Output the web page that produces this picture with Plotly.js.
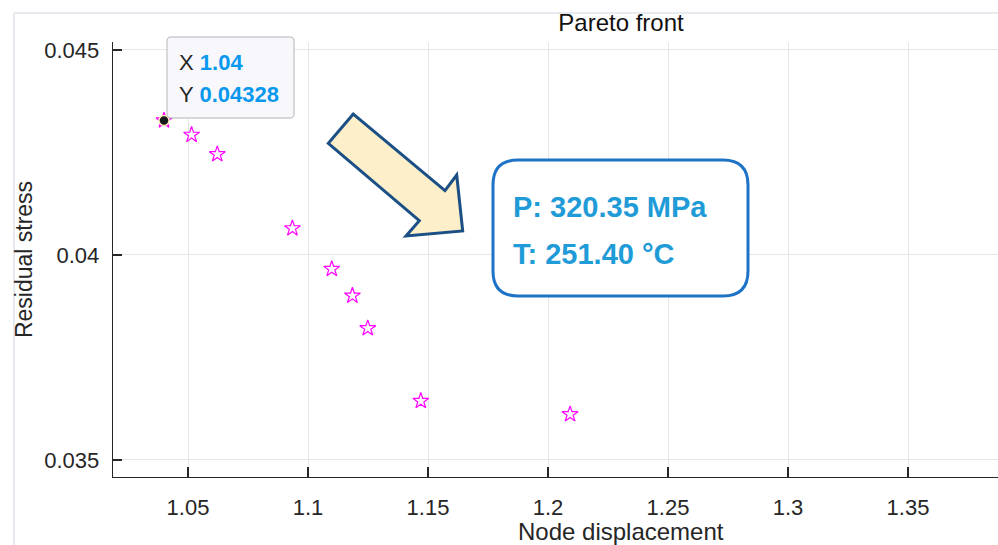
<!DOCTYPE html>
<html>
<head>
<meta charset="utf-8">
<script src="https://cdn.plot.ly/plotly-3.0.1.min.js"></script>
<style>html,body{margin:0;padding:0;background:#fff;}#chart{width:998px;height:545px;}</style>
</head>
<body>
<div id="chart"></div>
<script>
// ---- data ----
const nodeDisplacement = [1.04, 1.0515, 1.0622, 1.0935, 1.1099, 1.1185, 1.1249, 1.147, 1.2092];
const residualStress   = [0.04328, 0.04293, 0.042456, 0.04065, 0.039659, 0.039008, 0.038212, 0.03644, 0.036115];
const xTickVals  = [1.05, 1.1, 1.15, 1.2, 1.25, 1.3, 1.35];
const xTickText  = ["1.05", "1.1", "1.15", "1.2", "1.25", "1.3", "1.35"];
const yTickVals  = [0.035, 0.04, 0.045];
const yTickText  = ["0.035", "0.04", "0.045"];
const tipIndex = 0;
const boxLines = ["P: 320.35 MPa", "T: 251.40 °C"];
const chartTitle = "Pareto front";
const xTitle = "Node displacement";
const yTitle = "Residual stress";

// ---- layout geometry ----
const W = 998, H = 545;
const ml = 113, mr = 0, mt = 42, mb = 68;
const pw = W - ml - mr, ph = H - mt - mb;
const px = x => (x - ml) / pw;
const py = y => (mt + ph - y) / ph;

function polyPath(pts) {
  return 'M ' + pts.map(p => px(p[0]).toFixed(5) + ',' + py(p[1]).toFixed(5)).join(' L ') + ' Z';
}
function roundRect(x0, y0, x1, y1, r) {
  const P = (x, y) => px(x).toFixed(5) + ',' + py(y).toFixed(5);
  return 'M ' + P(x0 + r, y0) + ' L ' + P(x1 - r, y0) + ' Q ' + P(x1, y0) + ' ' + P(x1, y0 + r) +
    ' L ' + P(x1, y1 - r) + ' Q ' + P(x1, y1) + ' ' + P(x1 - r, y1) +
    ' L ' + P(x0 + r, y1) + ' Q ' + P(x0, y1) + ' ' + P(x0, y1 - r) +
    ' L ' + P(x0, y0 + r) + ' Q ' + P(x0, y0) + ' ' + P(x0 + r, y0) + ' Z';
}

const font = "Liberation Sans, Arial, sans-serif";

const traces = [
  {
    x: nodeDisplacement, y: residualStress,
    type: 'scatter', mode: 'markers',
    marker: { symbol: 'star-open', size: 12, color: '#ff00ff', line: { width: 1.2, color: '#ff00ff' } },
    hoverinfo: 'skip', showlegend: false, cliponaxis: false
  },
  {
    x: [nodeDisplacement[tipIndex]], y: [residualStress[tipIndex]],
    type: 'scatter', mode: 'markers',
    marker: { symbol: 'circle', size: 10, color: '#1a1a1a', line: { width: 1.5, color: '#fbe9b8' } },
    hoverinfo: 'skip', showlegend: false, cliponaxis: false
  }
];

const arrowPts = [[353.3,114],[328.3,143.3],[419.3,220.7],[406,236],[462.7,231],[456.7,175],[445,190.7]];

const layout = {
  width: W, height: H,
  margin: { l: ml, r: mr, t: mt, b: mb, pad: 0 },
  paper_bgcolor: '#ffffff', plot_bgcolor: '#ffffff',
  font: { family: font, color: '#262626', size: 22 },
  title: { text: chartTitle, font: { family: font, size: 24, color: '#111111' },
           x: 621 / W, xref: 'container', xanchor: 'center', y: 1 - 23 / H, yref: 'container', yanchor: 'middle' },
  xaxis: {
    range: [1.01875, 1.3875], tickvals: xTickVals, ticktext: xTickText,
    ticks: 'inside', ticklen: 10, tickwidth: 1.2, tickcolor: '#262626',
    showline: true, linecolor: '#262626', linewidth: 1.3,
    showgrid: true, gridcolor: '#e6e6e6', gridwidth: 1, zeroline: false,
    tickfont: { family: font, size: 22, color: '#262626' }, ticklabelstandoff: 10
  },
  yaxis: {
    range: [0.034585, 0.045195], tickvals: yTickVals, ticktext: yTickText,
    ticks: 'inside', ticklen: 9, tickwidth: 1.2, tickcolor: '#262626',
    showline: true, linecolor: '#262626', linewidth: 1.3,
    showgrid: true, gridcolor: '#e6e6e6', gridwidth: 1, zeroline: false,
    tickfont: { family: font, size: 22, color: '#262626' }, ticklabelstandoff: 8,
    title: { text: yTitle, font: { family: font, size: 23, color: '#262626' }, standoff: 5 }
  },
  shapes: [
    // outer figure frame lines
    { type: 'line', xref: 'paper', yref: 'paper', x0: px(14), x1: px(998), y0: py(13), y1: py(13),
      line: { color: '#dfe3e8', width: 1.5 } },
    { type: 'line', xref: 'paper', yref: 'paper', x0: px(14), x1: px(14), y0: py(13), y1: py(545),
      line: { color: '#dfe3e8', width: 1.5 } },
    // datatip box
    { type: 'path', xref: 'paper', yref: 'paper', path: roundRect(167, 37, 294, 118, 4),
      fillcolor: '#f8f8fc', line: { color: '#b4b4b8', width: 1 } },
    // block arrow
    { type: 'path', xref: 'paper', yref: 'paper', path: polyPath(arrowPts),
      fillcolor: '#fdefc9', line: { color: '#1b4f85', width: 3 } },
    // text box
    { type: 'path', xref: 'paper', yref: 'paper', path: roundRect(493, 160, 748, 296, 25),
      fillcolor: '#ffffff', line: { color: '#1f73c6', width: 3 } }
  ],
  annotations: [
    { xref: 'paper', yref: 'paper', x: px(621), y: py(531), xanchor: 'center', yanchor: 'middle', showarrow: false,
      text: xTitle, font: { family: font, size: 24, color: '#262626' } },
    { xref: 'paper', yref: 'paper', x: px(177), y: py(63), xanchor: 'left', yanchor: 'middle', showarrow: false,
      text: 'X <b><span style="color:#0a98ee">' + nodeDisplacement[tipIndex].toFixed(2) + '</span></b>',
      font: { family: font, size: 22, color: '#262626' } },
    { xref: 'paper', yref: 'paper', x: px(177), y: py(94), xanchor: 'left', yanchor: 'middle', showarrow: false,
      text: 'Y <b><span style="color:#0a98ee">' + residualStress[tipIndex].toFixed(5) + '</span></b>',
      font: { family: font, size: 22, color: '#262626' } },
    { xref: 'paper', yref: 'paper', x: px(511), y: py(207), xanchor: 'left', yanchor: 'middle', showarrow: false,
      text: '<b>' + boxLines[0] + '</b>', font: { family: font, size: 29, color: '#1f9bd7' } },
    { xref: 'paper', yref: 'paper', x: px(511), y: py(254), xanchor: 'left', yanchor: 'middle', showarrow: false,
      text: '<b>' + boxLines[1] + '</b>', font: { family: font, size: 29, color: '#1f9bd7' } }
  ]
};

Plotly.newPlot('chart', traces, layout, { staticPlot: true, displayModeBar: false });
</script>
</body>
</html>
